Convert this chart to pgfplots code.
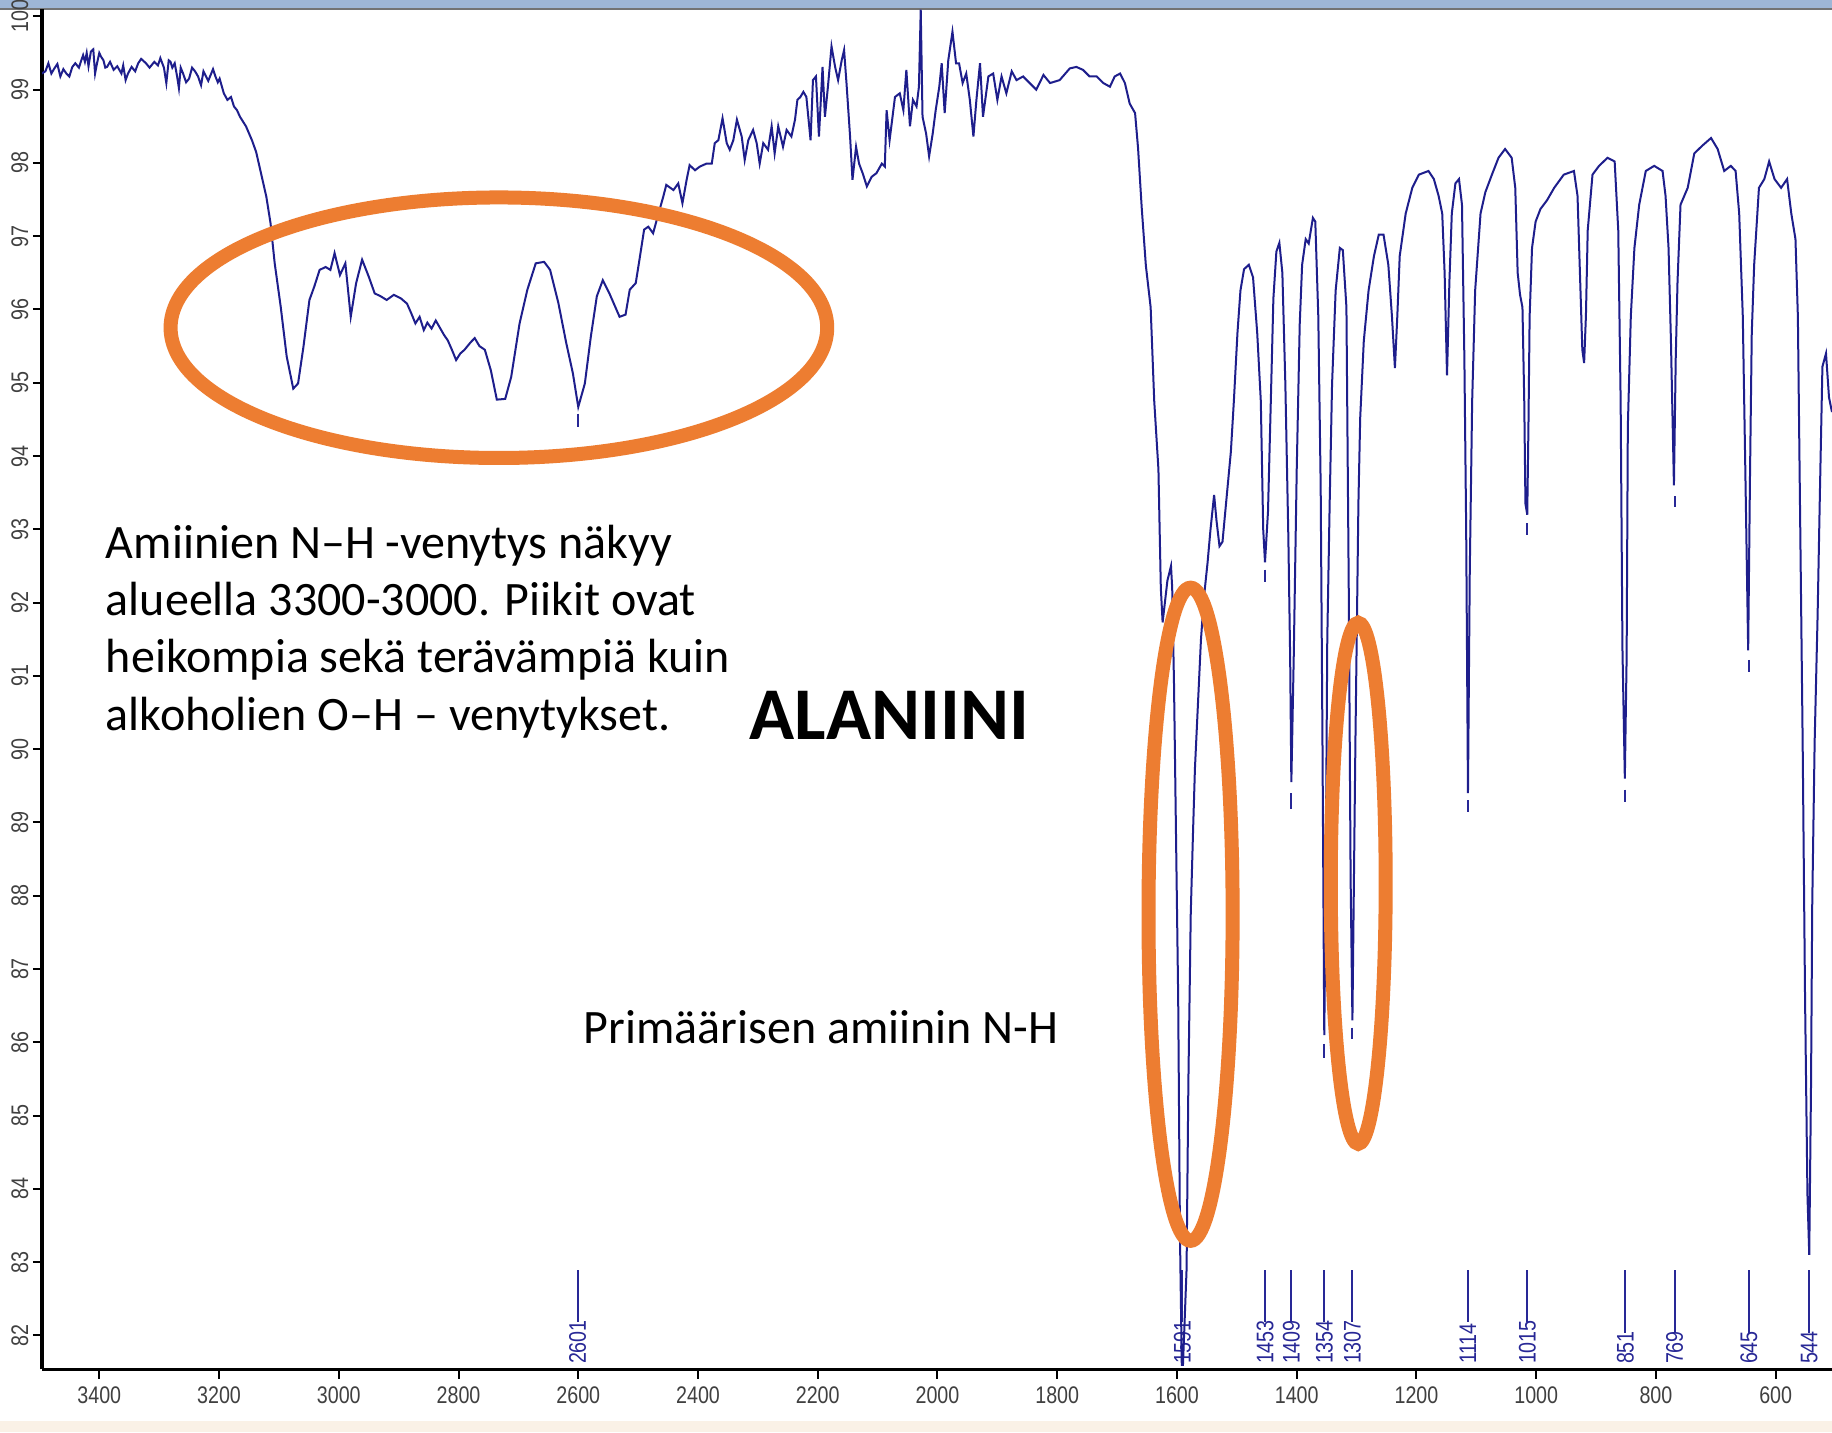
\documentclass[border=0pt]{standalone}
\usepackage{pgfplots}
\pgfplotsset{compat=1.18}
\usepackage{fontspec}
\setmainfont{Carlito}
\newfontfamily\tickfont[FakeStretch=0.82]{Liberation Sans}
\definecolor{spec}{RGB}{30,30,140}
\definecolor{pk}{RGB}{40,40,150}
\definecolor{ora}{RGB}{237,125,49}
\definecolor{barblue}{RGB}{158,182,214}
\definecolor{beige}{RGB}{250,241,230}
\begin{document}
\begin{tikzpicture}[x=0.29209pt,y=0.29209pt]
\path[use as bounding box] (0,0) rectangle (1568,1226);
\fill[white] (0,0) rectangle (1568,1226);
\fill[beige] (0,0) rectangle (1568,10);
\fill[barblue] (0,1219) rectangle (1568,1226);
\fill[black!55] (0,1217.5) rectangle (1568,1219);
\begin{axis}[
  at={(10.515pt,15.773pt)}, anchor=south west,
  scale only axis, width=447.48pt, height=339.99pt,
  x dir=reverse, xmin=506, xmax=3495.6, ymin=81.538, ymax=100.096,
  axis x line*=bottom, axis y line*=left,
  axis line style={line width=0.9pt, black},
  xtick={600,800,...,3400}, ytick={82,83,...,100},
  tick align=outside, major tick length=2.3pt,
  tick style={black, line width=0.5pt},
  /pgf/number format/1000 sep={},
  /pgf/number format/assume math mode=true,
  ticklabel style={font=\tickfont\fontsize{6}{7}\selectfont, text=black!75},
  yticklabel style={rotate=90, anchor=south},
  xticklabel style={anchor=north},
  yticklabel shift=-2.4pt,
  xticklabel shift=-1.4pt,
  unbounded coords=jump,
]
% peak marker lines
\addplot[pk, line width=0.5pt] coordinates {
(2601,82.89)(2601,82.19)(2601,nan)
(1591,82.89)(1591,82.19)(1591,nan)
(1453,82.89)(1453,82.19)(1453,nan)
(1409,82.89)(1409,82.19)(1409,nan)
(1354,82.89)(1354,82.19)(1354,nan)
(1307,82.89)(1307,82.19)(1307,nan)
(1114,82.89)(1114,82.19)(1114,nan)
(1015,82.89)(1015,82.19)(1015,nan)
(851,82.89)(851,82.04)(851,nan)
(769,82.89)(769,82.04)(769,nan)
(645,82.89)(645,82.04)(645,nan)
(544,82.89)(544,82.04)(544,nan)
(2601,94.58)(2601,94.40)(2601,nan)
(1453,92.45)(1453,92.28)(1453,nan)
(1409,89.40)(1409,89.18)(1409,nan)
(1354,85.98)(1354,85.78)(1354,nan)
(1307,86.20)(1307,86.04)(1307,nan)
(1114,89.30)(1114,89.14)(1114,nan)
(1015,93.08)(1015,92.92)(1015,nan)
(851,89.45)(851,89.28)(851,nan)
(769,93.45)(769,93.30)(769,nan)
(645,91.22)(645,91.06)
};
\foreach \p/\w in {2601/2601,1591/1591,1453/1453,1409/1409,1354/1354,1307/1307,1114/1114,1015/1015,851/851,769/769,645/645,544/544}{
  \edef\temp{\noexpand\node[rotate=90, anchor=west, inner sep=0pt, text=pk, font=\noexpand\tickfont\noexpand\fontsize{6}{7}\noexpand\selectfont] at (axis cs:\p,81.60) {\w};}
  \temp
}
% spectrum
\addplot[spec, line width=0.5pt] coordinates {
(3496,99.22)(3490,99.25)(3485,99.36)(3480,99.22)(3475,99.29)(3470,99.35)(3465,99.18)(3460,99.28)
(3455,99.22)(3450,99.18)(3445,99.31)(3440,99.36)(3434,99.30)(3430,99.40)(3427,99.47)(3424,99.38)
(3421,99.50)(3418,99.32)(3414,99.52)(3410,99.55)(3407,99.22)(3404,99.35)(3400,99.50)(3397,99.45)
(3393,99.40)(3390,99.30)(3387,99.31)(3382,99.38)(3376,99.27)(3370,99.32)(3363,99.22)(3360,99.33)
(3356,99.13)(3352,99.22)(3346,99.31)(3340,99.25)(3335,99.36)(3330,99.42)(3322,99.36)(3316,99.30)
(3308,99.38)(3302,99.33)(3298,99.43)(3292,99.30)(3288,99.09)(3284,99.40)(3281,99.38)(3278,99.30)
(3274,99.36)(3270,99.18)(3267,99.02)(3264,99.30)(3260,99.22)(3255,99.10)(3250,99.15)(3245,99.30)
(3240,99.25)(3235,99.18)(3230,99.06)(3226,99.25)(3223,99.20)(3218,99.12)(3213,99.22)(3210,99.28)
(3206,99.18)(3202,99.10)(3199,99.15)(3192,98.95)(3186,98.86)(3180,98.90)(3175,98.77)(3170,98.72)
(3165,98.63)(3155,98.50)(3145,98.31)(3138,98.15)(3131,97.90)
(3121,97.54)(3114,97.18)(3107,96.63)(3097,96.04)(3087,95.36)(3076,94.92)(3068,94.99)(3059,95.49)
(3049,96.13)(3041,96.31)(3032,96.54)(3022,96.58)(3014,96.54)(3007,96.77)(2998,96.47)(2989,96.63)
(2980,95.90)(2971,96.36)(2961,96.68)(2950,96.45)(2940,96.22)(2930,96.18)(2920,96.13)(2908,96.20)
(2896,96.15)(2886,96.08)(2879,95.95)(2872,95.81)(2865,95.90)(2858,95.72)(2852,95.82)(2845,95.74)
(2838,95.85)(2831,95.75)(2824,95.65)(2818,95.58)(2811,95.45)(2804,95.31)(2797,95.40)(2790,95.45)
(2780,95.55)(2773,95.61)(2765,95.50)(2756,95.45)(2746,95.17)(2736,94.77)(2722,94.78)(2712,95.08)
(2698,95.81)(2685,96.27)(2671,96.63)
(2657,96.65)(2647,96.54)(2633,96.08)(2620,95.54)(2609,95.13)(2600,94.67)(2589,94.99)(2579,95.63)
(2569,96.18)(2559,96.40)(2548,96.22)(2531,95.90)(2521,95.93)(2514,96.27)(2504,96.36)(2497,96.72)
(2490,97.09)(2483,97.13)(2475,97.04)(2466,97.31)(2458,97.54)(2453,97.70)(2441,97.63)(2433,97.72)
(2426,97.45)(2419,97.77)(2414,97.97)(2405,97.90)(2397,97.95)(2386,97.99)(2377,97.99)(2372,98.27)
(2366,98.31)(2359,98.61)(2352,98.27)(2347,98.18)(2341,98.31)(2335,98.59)(2327,98.36)(2322,98.04)
(2316,98.31)(2308,98.45)(2302,98.27)(2297,97.99)(2291,98.27)(2283,98.18)(2277,98.50)(2272,98.13)
(2266,98.50)(2258,98.22)(2252,98.45)(2244,98.36)(2238,98.59)(2234,98.86)(2229,98.90)(2224,98.97)
(2219,98.90)(2212,98.31)(2208,99.13)(2203,99.18)(2198,98.36)(2192,99.31)(2188,98.63)(2183,99.04)
(2177,99.59)(2171,99.31)(2166,99.13)(2160,99.40)(2156,99.54)(2152,99.09)(2146,98.36)(2142,97.77)
(2136,98.22)(2131,97.99)(2125,97.86)(2118,97.68)(2110,97.81)(2102,97.86)(2093,97.99)(2088,97.95)
(2085,98.72)(2080,98.31)(2071,98.90)(2063,98.95)(2057,98.72)(2052,99.27)(2046,98.50)(2041,98.86)
(2035,98.77)(2031,99.04)(2028,100.09)(2025,98.63)(2019,98.40)(2014,98.09)(2008,98.40)(2003,98.72)
(1997,99.04)(1993,99.36)(1988,98.68)(1982,99.40)(1975,99.79)(1969,99.36)(1964,99.36)(1958,99.09)
(1952,99.22)(1946,98.86)(1940,98.36)(1935,98.86)(1929,99.36)(1924,98.63)(1915,99.18)(1907,99.22)
(1900,98.86)(1893,99.18)(1885,98.95)(1876,99.25)(1868,99.13)(1857,99.18)(1846,99.09)(1835,99.00)
(1823,99.20)(1812,99.09)(1796,99.13)(1779,99.29)(1768,99.31)(1757,99.27)(1746,99.18)(1734,99.18)
(1723,99.09)(1712,99.04)(1704,99.18)(1695,99.22)(1687,99.09)(1679,98.81)(1670,98.68)(1665,98.20)
(1659,97.40)(1652,96.60)(1644,96.03)(1638,94.75)(1631,93.82)(1627,92.20)(1624,91.73)(1616,92.30)
(1610,92.50)(1608,92.20)(1605,90.90)(1602,89.05)(1598,86.60)(1595,83.35)(1592,81.60)(1590,81.60)
(1584,82.90)(1581,85.44)(1577,87.76)(1573,88.93)(1570,89.74)(1566,90.44)(1560,91.49)(1555,92.07)
(1549,92.54)(1544,93.00)(1538,93.47)(1534,93.12)(1529,92.77)(1524,92.83)(1518,93.36)(1510,94.06)
(1505,94.75)(1499,95.68)(1494,96.26)(1488,96.55)(1480,96.61)(1473,96.44)(1466,95.68)(1460,94.75)
(1456,93.00)(1453,92.55)(1448,93.24)(1444,94.52)(1439,96.15)(1434,96.79)(1429,96.91)(1424,96.50)
(1419,94.98)(1414,92.89)(1411,91.26)(1409,89.55)(1405,91.26)(1400,93.82)(1395,95.80)(1391,96.61)
(1385,96.96)(1380,96.90)(1373,97.25)(1369,97.20)(1364,95.91)(1360,93.58)(1357,90.09)(1354,86.10)
(1352,87.76)(1349,91.49)(1345,93.35)(1341,94.98)(1335,96.26)(1328,96.84)(1323,96.81)(1317,96.03)
(1313,92.07)(1310,88.23)(1307,86.30)(1302,90.09)(1297,93.35)(1294,94.52)(1288,95.57)(1280,96.26)
(1271,96.73)(1263,97.02)(1255,97.02)(1247,96.61)(1241,95.91)(1236,95.20)(1232,95.91)(1228,96.73)
(1218,97.31)(1207,97.66)(1196,97.84)(1180,97.89)(1171,97.78)(1163,97.55)(1157,97.31)(1153,96.50)
(1149,95.10)(1145,96.38)(1141,97.31)(1135,97.72)(1129,97.78)(1124,97.43)(1120,95.33)(1117,93.00)
(1114,89.40)(1111,92.42)(1107,94.75)(1102,96.26)(1093,97.31)(1085,97.60)(1074,97.84)(1063,98.07)
(1052,98.19)(1041,98.07)(1035,97.66)(1031,96.50)(1027,96.20)(1023,96.03)(1020,94.75)(1018,93.35)
(1015,93.20)(1013,94.40)(1011,95.91)(1007,96.84)(1001,97.20)(993,97.37)(982,97.49)(970,97.66)
(954,97.84)(937,97.89)(931,97.55)(927,96.50)(923,95.45)(920,95.27)(917,95.91)(914,97.08)
(906,97.84)(895,97.96)(881,98.07)(869,98.02)(863,97.08)(859,94.75)(856,91.38)(852,89.60)
(849,91.26)(847,94.40)(842,95.91)(836,96.84)(828,97.43)(817,97.89)(803,97.96)(789,97.89)
(784,97.55)(779,96.84)(775,95.57)(770,93.60)(767,95.33)(764,96.38)(759,97.43)(747,97.66)
(736,98.13)(722,98.24)(708,98.34)(697,98.19)(686,97.89)(675,97.96)(667,97.89)(661,97.31)
(655,95.91)(651,93.93)(646,91.35)(643,93.70)(640,95.68)(636,96.61)(628,97.66)(619,97.78)
(611,98.02)(602,97.78)(591,97.66)(581,97.78)(574,97.31)(567,96.96)(563,95.91)(559,93.00)
(555,90.09)(551,86.60)(547,83.92)(544,83.10)(541,85.44)(539,87.88)(535,90.09)(530,91.84)
(526,93.58)(522,95.22)(516,95.40)(511,94.80)(506,94.60)
};
\end{axis}
% annotations
\draw[ora, line width=3.5pt] (427,945.5) ellipse [x radius=281, y radius=111.5];
\draw[ora, line width=3.5pt] (1019,443.5) ellipse [x radius=36, y radius=279.5];
\draw[ora, line width=3.5pt] (1162.5,470) ellipse [x radius=23.5, y radius=223];
\begin{scope}[every node/.style={inner sep=0pt, anchor=base west, font=\fontsize{12}{14.3}\selectfont}]
\node at (90,748) {Amiinien N–H -venytys näkyy};
\node at (90,699) {alueella 3300-3000. Piikit ovat};
\node at (90,650) {heikompia sekä terävämpiä kuin};
\node at (90,601) {alkoholien O–H – venytykset.};
\node at (499,333) {Primäärisen amiinin N-H};
\end{scope}
\node[inner sep=0pt, anchor=base west, font=\fontsize{18.6}{22}\selectfont\bfseries] at (641,593) {ALANIINI};
\end{tikzpicture}
\end{document}
